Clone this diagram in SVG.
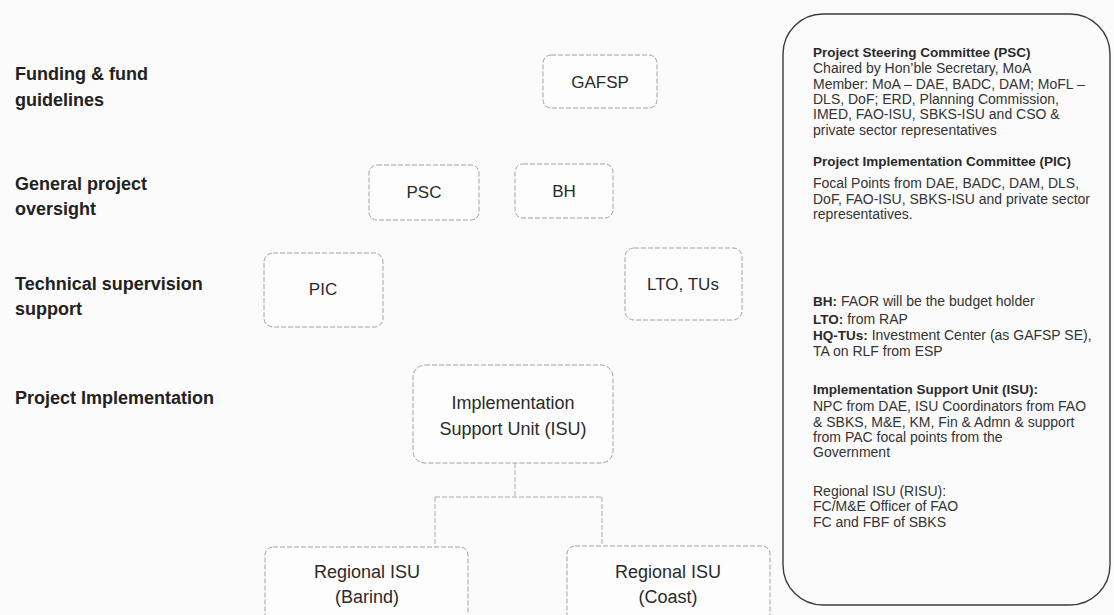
<svg xmlns="http://www.w3.org/2000/svg" width="1114" height="615" viewBox="0 0 1114 615">
<style>
.lbl{font-family:"Liberation Sans",Arial,sans-serif;font-size:18px;font-weight:bold;fill:#222}
.box{fill:#fdfdfd;stroke:#a2a2a2;stroke-width:1;stroke-dasharray:5 2}
.nt{font-family:"Liberation Sans",Arial,sans-serif;font-size:17px;fill:#2a2a2a;text-anchor:middle}
.nt2{font-family:"Liberation Sans",Arial,sans-serif;font-size:18px;fill:#2a2a2a;text-anchor:middle}
.con{fill:none;stroke:#ababab;stroke-width:1;stroke-dasharray:5 2}
.pan{fill:none;stroke:#3c3c3c;stroke-width:1.4}
.pt{font-family:"Liberation Sans",Arial,sans-serif;font-size:14px;fill:#333}
.ph{font-weight:bold;fill:#2a2a2a;font-size:13.5px}
</style>
<rect x="0" y="0" width="1114" height="615" fill="#fbfbfb"/>

<g id="labels">
<text class="lbl" x="15" y="80">Funding &amp; fund</text>
<text class="lbl" x="15" y="106">guidelines</text>
<text class="lbl" x="15" y="190">General project</text>
<text class="lbl" x="15" y="215">oversight</text>
<text class="lbl" x="15" y="290">Technical supervision</text>
<text class="lbl" x="15" y="315">support</text>
<text class="lbl" x="15" y="404">Project Implementation</text>
</g>

<g id="connectors">
<path class="con" d="M515,463 V497"/>
<path class="con" d="M435,497 H602"/>
<path class="con" d="M435,497 V547"/>
<path class="con" d="M602,497 V546"/>
</g>

<g id="gafsp">
<rect class="box" x="543" y="55" width="114" height="53" rx="8"/>
<text class="nt" x="600" y="88">GAFSP</text>
</g>
<g id="psc">
<rect class="box" x="369" y="165" width="110" height="55" rx="8"/>
<text class="nt" x="424" y="198">PSC</text>
</g>
<g id="bh">
<rect class="box" x="515" y="164" width="98" height="54" rx="8"/>
<text class="nt" x="564" y="197">BH</text>
</g>
<g id="pic">
<rect class="box" x="264" y="253" width="119" height="74" rx="9"/>
<text class="nt" x="323" y="295">PIC</text>
</g>
<g id="lto">
<rect class="box" x="625" y="248" width="117" height="72" rx="9"/>
<text class="nt" x="683" y="290">LTO, TUs</text>
</g>
<g id="isu">
<rect class="box" x="413" y="365" width="200" height="98" rx="12"/>
<text class="nt2" x="513" y="409">Implementation</text>
<text class="nt2" x="513" y="435">Support Unit (ISU)</text>
</g>
<g id="risu-barind">
<rect class="box" x="265" y="547" width="203" height="80" rx="8"/>
<text class="nt2" x="367" y="578">Regional ISU</text>
<text class="nt2" x="367" y="603">(Barind)</text>
</g>
<g id="risu-coast">
<rect class="box" x="567" y="546" width="203" height="80" rx="8"/>
<text class="nt2" x="668" y="578">Regional ISU</text>
<text class="nt2" x="668" y="603">(Coast)</text>
</g>

<g id="legend">
<rect class="pan" x="783" y="14" width="327" height="591" rx="40"/>
<text class="pt ph" x="813" y="57">Project Steering Committee (PSC)</text>
<text class="pt" x="813" y="73">Chaired by Hon’ble Secretary, MoA</text>
<text class="pt" x="813" y="89">Member: MoA – DAE, BADC, DAM; MoFL –</text>
<text class="pt" x="813" y="104">DLS, DoF;  ERD, Planning Commission,</text>
<text class="pt" x="813" y="119">IMED, FAO-ISU, SBKS-ISU and CSO &amp;</text>
<text class="pt" x="813" y="135">private sector representatives</text>
<text class="pt ph" x="813" y="166">Project Implementation Committee (PIC)</text>
<text class="pt" x="813" y="188">Focal Points  from DAE, BADC, DAM, DLS,</text>
<text class="pt" x="813" y="204">DoF, FAO-ISU, SBKS-ISU and private sector</text>
<text class="pt" x="813" y="219">representatives.</text>
<text class="pt" x="813" y="306"><tspan class="ph">BH:</tspan> FAOR will be the budget holder</text>
<text class="pt" x="813" y="324"><tspan class="ph">LTO:</tspan> from RAP</text>
<text class="pt" x="813" y="340"><tspan class="ph">HQ-TUs:</tspan> Investment Center (as GAFSP SE),</text>
<text class="pt" x="813" y="356">TA on RLF from ESP</text>
<text class="pt ph" x="813" y="394">Implementation Support Unit (ISU):</text>
<text class="pt" x="813" y="411">NPC from DAE, ISU Coordinators from FAO</text>
<text class="pt" x="813" y="427">&amp; SBKS, M&amp;E, KM, Fin &amp; Admn &amp; support</text>
<text class="pt" x="813" y="442">from PAC focal points from the</text>
<text class="pt" x="813" y="457">Government</text>
<text class="pt" x="813" y="496">Regional ISU (RISU):</text>
<text class="pt" x="813" y="511">FC/M&amp;E Officer of FAO</text>
<text class="pt" x="813" y="527">FC and FBF of SBKS</text>
</g>
</svg>
